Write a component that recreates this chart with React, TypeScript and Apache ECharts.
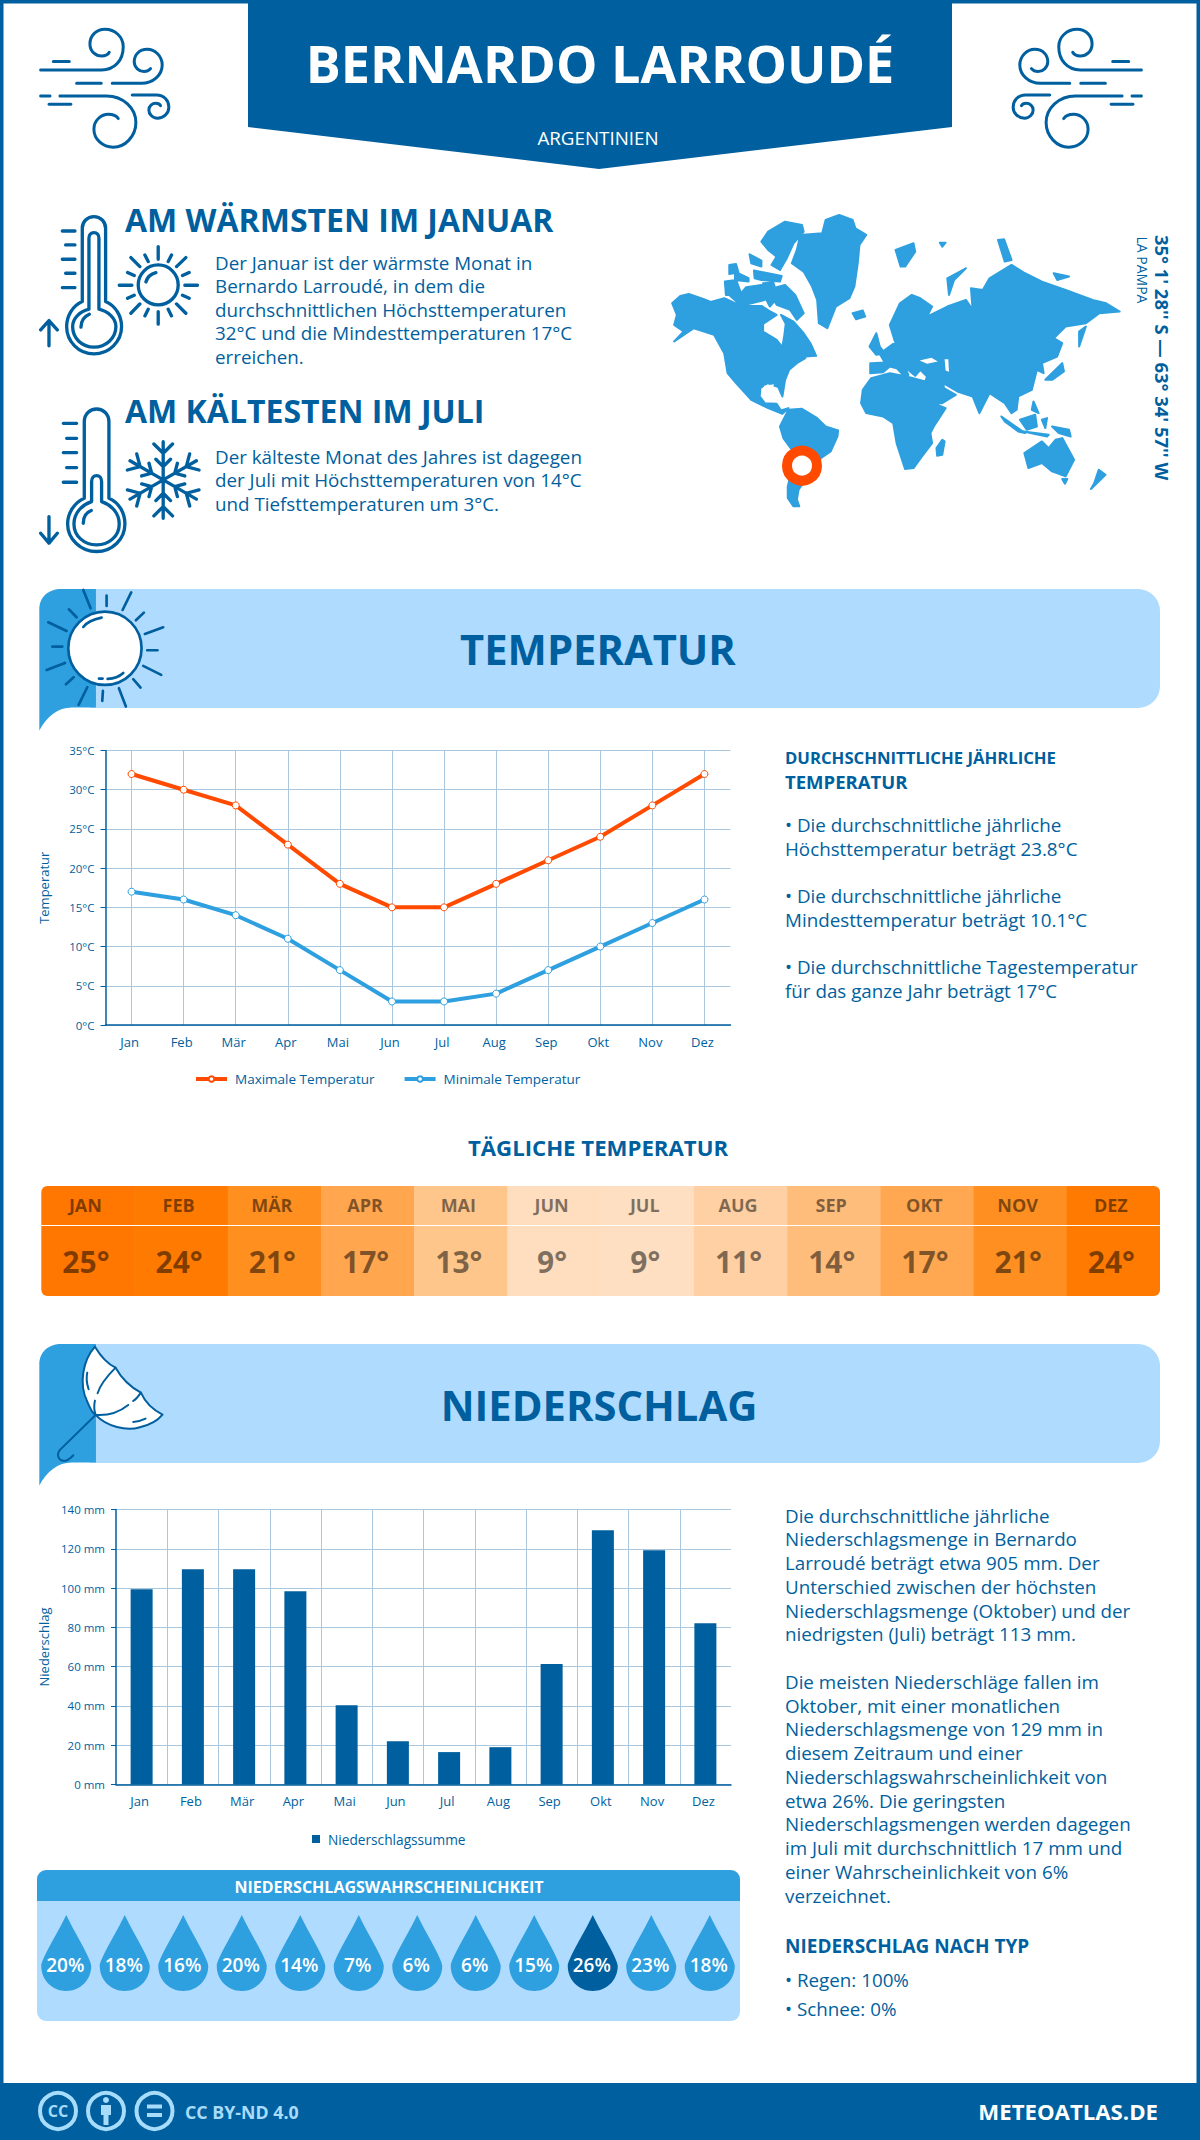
import React, { useEffect, useRef } from "react";
import * as echarts from "echarts";

const FONT = '"Open Sans"';
const DARK = "#005f9e";
const MID = "#2e9fdf";
const LIGHT = "#afdbff";
const ORANGE = "#ff4a00";
const GRIDC = "#a9c7de";

const months = ["Jan", "Feb", "Mär", "Apr", "Mai", "Jun", "Jul", "Aug", "Sep", "Okt", "Nov", "Dez"];
const monthsUpper = ["JAN", "FEB", "MÄR", "APR", "MAI", "JUN", "JUL", "AUG", "SEP", "OKT", "NOV", "DEZ"];
const maxTemp = [32, 30, 28, 23, 18, 15, 15, 18, 21, 24, 28, 32];
const minTemp = [17, 16, 14, 11, 7, 3, 3, 4, 7, 10, 13, 16];
const dailyTemp = [25, 24, 21, 17, 13, 9, 9, 11, 14, 17, 21, 24];
const dailyColors = ["#ff7700", "#ff7a00", "#ff8f1f", "#ffa64f", "#ffc68c", "#ffdebf", "#ffdfc1", "#ffd0a3", "#ffbd7c", "#ffa851", "#ff8f20", "#ff7a00"];
const precip = [99.4, 109.6, 109.6, 98.4, 40.4, 22, 16.5, 19, 61.3, 129.5, 119.3, 82.1];
const rainChance = [20, 18, 16, 20, 14, 7, 6, 6, 15, 26, 23, 18];

const warmText = ["Der Januar ist der wärmste Monat in", "Bernardo Larroudé, in dem die", "durchschnittlichen Höchsttemperaturen", "32°C und die Mindesttemperaturen 17°C", "erreichen."];
const warmY = [263, 286, 310, 333, 357];
const coldText = ["Der kälteste Monat des Jahres ist dagegen", "der Juli mit Höchsttemperaturen von 14°C", "und Tiefsttemperaturen um 3°C."];
const coldY = [457, 480, 504];
const tempSide = ["• Die durchschnittliche jährliche", "Höchsttemperatur beträgt 23.8°C", "• Die durchschnittliche jährliche", "Mindesttemperatur beträgt 10.1°C", "• Die durchschnittliche Tagestemperatur", "für das ganze Jahr beträgt 17°C"];
const tempSideY = [825, 849, 896, 920, 967, 991];
const rainSide = ["Die durchschnittliche jährliche", "Niederschlagsmenge in Bernardo", "Larroudé beträgt etwa 905 mm. Der", "Unterschied zwischen der höchsten", "Niederschlagsmenge (Oktober) und der", "niedrigsten (Juli) beträgt 113 mm.", "Die meisten Niederschläge fallen im", "Oktober, mit einer monatlichen", "Niederschlagsmenge von 129 mm in", "diesem Zeitraum und einer", "Niederschlagswahrscheinlichkeit von", "etwa 26%. Die geringsten", "Niederschlagsmengen werden dagegen", "im Juli mit durchschnittlich 17 mm und", "einer Wahrscheinlichkeit von 6%", "verzeichnet."];
const rainSideY = [1516, 1539, 1563, 1587, 1611, 1634, 1682, 1706, 1729, 1753, 1777, 1801, 1824, 1848, 1872, 1896];

function flakePath() {
  const cx = 400, cy = 240;
  let d = "";
  const seg = (a: number, r1: number, o1: number, r2: number, o2: number) => {
    const c = Math.cos(a), s = Math.sin(a);
    const p = (r: number, o: number) => `${(cx + r * c - o * s).toFixed(1)} ${(cy + r * s + o * c).toFixed(1)}`;
    return `M${p(r1, o1)} L${p(r2, o2)} `;
  };
  for (let i = 0; i < 6; i++) {
    const a = (i * Math.PI) / 3 - Math.PI / 2;
    d += seg(a, 0, 0, 115, 0);
    d += seg(a, 80, 0, 108, 28) + seg(a, 80, 0, 108, -28);
    d += seg(a, 40, 0, 62, 22) + seg(a, 40, 0, 62, -22);
  }
  return d;
}

const windD =
  "M62 180 H245 C285 180 310 150 310 110 C310 80 285 58 255 58 C228 58 210 78 210 102 C210 125 228 138 245 138 C255 138 265 133 268 127 " +
  "M100 155 H148 M277 220 H365 C400 220 427 195 427 165 C427 138 405 118 382 118 C358 118 343 135 343 155 C343 173 358 185 372 185 C380 185 388 181 392 176 " +
  "M170 220 H244 M62 258 H90 M120 258 H260 C310 258 348 295 348 338 C348 380 315 412 280 412 C248 412 222 388 222 358 C222 330 245 313 265 313 C278 313 290 318 295 326 " +
  "M87 283 H153 M337 255 H410 C432 255 447 272 447 292 C447 312 430 325 413 325 C397 325 387 312 387 300 C387 288 397 280 408 280 C415 280 420 283 422 287";

const warmD =
  "M157 305 V85 C157 65 172 50 192 50 C212 50 227 65 227 85 V305 C258 318 275 350 275 380 C275 425 238 462 192 462 C146 462 110 425 110 380 C110 350 127 318 157 305 Z " +
  "M177 328 V115 C177 105 183 98 192 98 C201 98 207 105 207 115 V328 C235 335 258 355 258 380 C258 415 228 442 192 442 C156 442 128 415 128 380 C128 355 150 335 177 328 Z " +
  "M153 382 C153 365 162 350 178 343 M97 93 H135 M107 135 H135 M97 178 H135 M107 220 H135 M97 263 H135 M57 438 V362 M32 390 L57 362 L82 390 " +
  "M325 255 C325 222 352 195 385 195 C418 195 445 222 445 255 C445 288 418 315 385 315 C352 315 325 288 325 255 Z M348 246 C352 232 362 222 378 218 " +
  "M385 140 V178 M385 335 V373 M268 256 H306 M465 256 H503 M303 173 L330 200 M468 173 L440 200 M303 340 L330 312 M468 340 L440 312 " +
  "M345 165 L355 185 M425 165 L415 185 M293 218 L313 227 M478 218 L458 227 M293 295 L313 286 M478 295 L458 286 M345 348 L355 328 M425 348 L415 328";

const coldD =
  "M163 295 V65 C163 42 180 27 200 27 C220 27 237 42 237 65 V295 C268 308 285 340 285 372 C285 418 247 455 200 455 C153 455 113 418 113 372 C113 340 133 308 163 295 Z " +
  "M185 305 V245 C185 233 192 227 200 227 C208 227 215 233 215 245 V305 C245 315 268 340 268 372 C268 408 238 435 200 435 C162 435 132 408 132 372 C132 340 155 315 185 305 Z " +
  "M160 370 C160 352 168 338 184 332 M100 70 H140 M110 115 H140 M100 158 H140 M110 203 H140 M100 247 H140 M57 350 V430 M32 400 L57 430 L82 400 " +
  flakePath();

const bandD = "M28 452 V90 C28 50 55 27 95 27 H198 V383 H125 C85 383 50 410 28 452 Z";
const sunRaysD =
  "M160 30 L182 85 M230 47 V78 M304 37 L278 90 M342 98 L318 121 M400 142 L345 162 M352 211 H383 M394 285 L340 258 M332 323 L310 298 M288 380 L267 325 M217 363 L219 333 M146 375 L172 322 M108 313 L131 292 M50 270 L105 249 M67 200 H97 M55 127 L110 153 M117 88 L140 112 " +
  "M160 141 C170 128 190 118 215 113 M233 297 C250 296 268 290 280 279 M207 296 H218";
const discD = "M115 205 C115 144 164 95 225 95 C286 95 335 144 335 205 C335 266 286 315 225 315 C164 315 115 266 115 205 Z";
const canopyD = "M195 20 C160 60 145 130 172 185 C180 205 190 222 197 225 C230 260 290 275 330 262 C360 255 385 240 398 224 C370 210 345 185 333 158 C300 140 275 115 257 83 C230 70 210 45 195 20 Z";
const ribsD = "M197 225 C240 228 270 215 295 195 M310 183 C318 178 325 170 333 158 M257 83 C235 105 212 130 203 160 M195 182 C192 195 192 210 197 225 M172 98 C168 115 170 130 176 148 M310 246 C322 245 335 242 347 236 M197 225 L90 330 C78 345 85 362 103 363 C115 362 122 355 130 346";

const mapD =
  // North America
  "M36 310 L60 288 L85 282 L130 298 L150 306 L190 295 L240 318 L300 318 L322 332 L345 345 L305 372 L305 395 L345 420 L362 442 L368 405 L372 372 L358 345 L395 365 L425 400 L445 430 L462 468 L430 470 L408 460 L430 475 L405 490 L382 510 L370 540 L362 590 L350 562 L318 550 L297 565 L295 590 L310 610 L345 612 L358 632 L380 625 L362 642 L320 625 L270 600 L225 550 L200 520 L190 460 L160 405 L100 385 L42 425 L70 395 L42 375 L50 345 Z " +
  // Greenland
  "M415 105 L480 100 L490 60 L530 45 L570 60 L578 85 L610 105 L590 135 L585 190 L575 260 L560 295 L520 320 L495 385 L470 370 L465 300 L450 260 L425 215 L390 190 L405 150 Z " +
  // Arctic islands
  "M320 95 L370 65 L420 75 L425 95 L395 130 L375 175 L355 210 L330 195 L345 170 L320 150 L300 125 Z " +
  "M192 245 L225 240 L240 280 L255 262 L300 255 L310 300 L240 318 L205 285 L195 285 Z M205 195 L225 192 L232 218 L205 222 Z M222 215 L262 235 L262 245 L222 240 Z M265 163 L300 182 L300 200 L270 190 Z M278 212 L360 228 L355 245 L300 240 L280 235 Z M305 250 L335 248 L350 290 L325 320 L310 290 Z M345 262 L370 255 L400 285 L425 340 L405 360 L385 330 L345 315 L330 285 Z " +
  // South America
  "M355 680 L380 630 L420 627 L465 655 L490 680 L527 692 L525 710 L505 755 L480 772 L450 800 L420 855 L410 870 L405 900 L412 920 L395 920 L378 895 L378 860 L395 790 L390 750 L365 715 Z " +
  // Africa
  "M625 535 L680 520 L730 530 L785 545 L812 612 L845 625 L810 680 L800 700 L805 730 L775 770 L750 805 L725 808 L700 730 L690 670 L660 650 L610 640 L595 610 L600 570 Z M835 720 L842 725 L835 765 L820 768 L818 745 Z " +
  // Eurasia
  "M622 490 L622 520 L660 517 L680 500 L700 505 L728 535 L735 525 L722 500 L755 528 L770 510 L790 530 L785 545 L815 610 L835 610 L875 585 L840 565 L838 550 L880 575 L925 590 L945 640 L975 580 L1020 610 L1040 640 L1055 630 L1060 590 L1100 570 L1115 510 L1135 520 L1130 490 L1175 470 L1190 430 L1165 415 L1200 380 L1260 370 L1300 340 L1360 335 L1320 310 L1280 300 L1200 270 L1130 245 L1080 220 L1040 195 L975 235 L955 270 L920 265 L925 330 L905 300 L850 320 L790 350 L805 320 L770 295 L745 285 L710 310 L680 375 L695 425 L720 420 L745 370 L725 400 L720 425 L690 432 L650 462 L665 488 L625 490 Z " +
  // islands
  "M640 400 L650 440 L665 460 L640 465 L620 440 Z M570 340 L600 332 L607 350 L580 358 Z M697 150 L750 130 L755 155 L725 200 L712 200 Z M1000 120 L1018 118 L1040 180 L1020 185 Z M1140 540 L1190 490 L1195 515 L1160 540 Z M1240 395 L1260 380 L1240 440 Z " +
  "M1010 650 L1080 700 L1060 695 L1020 665 Z M1075 695 L1150 705 L1145 710 Z M1065 660 L1110 645 L1115 680 L1085 690 Z M1160 680 L1210 690 L1215 710 L1180 700 Z M1105 605 L1120 640 L1100 630 Z M1130 660 L1145 655 L1140 685 Z " +
  "M1078 760 L1130 725 L1150 745 L1170 720 L1190 715 L1225 780 L1200 830 L1160 815 L1130 790 L1090 805 Z M1190 838 L1205 838 L1198 852 Z M1298 810 L1318 825 L1275 868 L1285 850 Z M850 235 L905 205 L870 240 L855 285 Z M1165 220 L1210 230 L1175 240 Z M828 128 L845 128 L835 140 Z";
const seasD = "M768 482 L803 474 L822 485 L790 492 Z M842 478 L853 478 L855 516 L845 512 Z M308 558 L338 553 L320 586 L302 582 Z";

const dropD = "M25 0 C33 17 50 44 50 51 C50 65 39 76 25 76 C11 76 0 65 0 51 C0 44 17 17 25 0 Z";
const personD = "M-5 -6 H5 V4 H2.5 V14 H-2.5 V4 H-5 Z";

const shapes: Record<string, string> = { wind: windD, warmIcon: warmD, coldIcon: coldD, band: bandD, sunRays: sunRaysD, disc: discD, canopy: canopyD, ribs: ribsD, worldMap: mapD, seas: seasD, person: personD };
Object.keys(shapes).forEach((k) => {
  echarts.graphic.registerShape(k, echarts.graphic.extendPath(shapes[k], {}) as any);
});

const icon = (type: string, x: number, y: number, lw: number, fill: string, stroke: string, sx = 1 / 3, sy = 1 / 3) => ({
  type, x, y, scaleX: sx, scaleY: sy, z: 4,
  style: { fill, stroke, lineWidth: lw, lineCap: "round", lineJoin: "round" },
});

const txt = (text: string, x: number, y: number, size: number, weight: any = 400, fill = DARK, align = "left", extra: any = {}) => ({
  type: "text", x, y, z: 6, ...extra,
  style: { text, fontFamily: FONT, fontSize: size, fontWeight: weight, fill, align, verticalAlign: "middle" },
});

const graphicEls: any[] = [
  { type: "rect", z: 1, shape: { x: 1.75, y: 1.75, width: 1196.5, height: 2136.5 }, style: { fill: "none", stroke: DARK, lineWidth: 3.5 } },
  { type: "polygon", z: 2, shape: { points: [[248, 0], [952, 0], [952, 127], [599, 169], [248, 127]] }, style: { fill: DARK } },
  txt("BERNARDO LARROUDÉ", 600, 62, 52.2, 700, "#fff", "center"),
  txt("ARGENTINIEN", 598, 138, 18.8, 400, "#fff", "center"),
  icon("wind", 20, 10, 9, "none", DARK),
  icon("wind", 1162, 10, 9, "none", DARK, -1 / 3, 1 / 3),
  icon("warmIcon", 30, 200, 10, "none", DARK),
  icon("coldIcon", 30, 400, 10, "none", DARK),
  txt("AM WÄRMSTEN IM JANUAR", 125, 219, 32, 700),
  txt("AM KÄLTESTEN IM JULI", 125, 410, 32, 700),
  ...warmText.map((t, i) => txt(t, 215, warmY[i], 18.8)),
  ...coldText.map((t, i) => txt(t, 215, coldY[i], 18.8)),
  { type: "worldMap", x: 660, y: 200, scaleX: 0.338, scaleY: 1 / 3, z: 3, style: { fill: MID, stroke: MID, lineWidth: 6, lineJoin: "round" } },
  { type: "seas", x: 660, y: 200, scaleX: 0.338, scaleY: 1 / 3, z: 3, style: { fill: "#fff" } },
  { type: "circle", z: 4, shape: { cx: 802, cy: 465.7, r: 15 }, style: { fill: "#fff", stroke: ORANGE, lineWidth: 10 } },
  txt("35° 1' 28'' S — 63° 34' 57'' W", 1162, 235, 18.4, 700, DARK, "left", { rotation: -Math.PI / 2 }),
  txt("LA PAMPA", 1142.5, 236.5, 14, 400, DARK, "left", { rotation: -Math.PI / 2 }),

  { type: "rect", z: 2, shape: { x: 90, y: 589, width: 1070, height: 119, r: [0, 22, 22, 0] }, style: { fill: LIGHT } },
  icon("band", 30, 580, 0, MID, "none"),
  icon("disc", 30, 580, 8, "#fff", DARK),
  icon("sunRays", 30, 580, 8, "none", DARK),
  txt("TEMPERATUR", 598, 648, 41.7, 700, DARK, "center"),
  txt("DURCHSCHNITTLICHE JÄHRLICHE", 785, 757, 16.7, 700),
  txt("TEMPERATUR", 785, 781, 18.5, 700),
  ...tempSide.map((t, i) => txt(t, 785, tempSideY[i], 18.8)),
  txt("TÄGLICHE TEMPERATUR", 598, 1147, 22.2, 700, DARK, "center"),
  { type: "line", z: 8, shape: { x1: 41, y1: 1225.5, x2: 1160, y2: 1225.5 }, style: { stroke: "#fff", lineWidth: 1 } },

  { type: "rect", z: 2, shape: { x: 90, y: 1344, width: 1070, height: 119, r: [0, 22, 22, 0] }, style: { fill: LIGHT } },
  icon("band", 30, 1335, 0, MID, "none"),
  icon("canopy", 30, 1340, 6, "#fff", DARK),
  icon("ribs", 30, 1340, 6, "none", DARK),
  txt("NIEDERSCHLAG", 599, 1404, 41.7, 700, DARK, "center"),
  ...rainSide.map((t, i) => txt(t, 785, rainSideY[i], 18.8)),
  txt("NIEDERSCHLAG NACH TYP", 785, 1946, 19, 700),
  txt("• Regen: 100%", 785, 1980, 18.8),
  txt("• Schnee: 0%", 785, 2009, 18.8),

  { type: "rect", z: 2, shape: { x: 37, y: 1870, width: 703, height: 31, r: [9, 9, 0, 0] }, style: { fill: MID } },
  { type: "rect", z: 2, shape: { x: 37, y: 1901, width: 703, height: 120, r: [0, 0, 9, 9] }, style: { fill: LIGHT } },
  txt("NIEDERSCHLAGSWAHRSCHEINLICHKEIT", 389, 1887, 16, 700, "#fff", "center"),

  { type: "rect", z: 5, shape: { x: 0, y: 2083, width: 1200, height: 57 }, style: { fill: DARK } },
  ...[58, 106, 154.5].map((cx) => ({ type: "circle", z: 6, shape: { cx, cy: 2111, r: 18 }, style: { fill: "none", stroke: "#a8dcfb", lineWidth: 4 } })),
  txt("CC", 58, 2111, 16, 700, "#a8dcfb", "center"),
  { type: "person", x: 106, y: 2111, z: 6, style: { fill: "#a8dcfb" } },
  { type: "circle", z: 6, shape: { cx: 106, cy: 2100, r: 3 }, style: { fill: "#a8dcfb" } },
  { type: "rect", z: 6, shape: { x: 147, y: 2104.5, width: 15, height: 4 }, style: { fill: "#a8dcfb" } },
  { type: "rect", z: 6, shape: { x: 147, y: 2113, width: 15, height: 4 }, style: { fill: "#a8dcfb" } },
  txt("CC BY-ND 4.0", 185, 2112, 17.8, 700, "#a8dcfb"),
  txt("METEOATLAS.DE", 1158, 2111, 22.2, 700, "#fff", "right"),
];

const axisText = { color: DARK, fontFamily: FONT };
const yAxisBase = (grid: number, name: string, nameGap: number, max: number, interval: number, fmt: string) => ({
  type: "value", gridIndex: grid, min: 0, max, interval, name, nameLocation: "middle", nameGap,
  nameTextStyle: { color: DARK, fontFamily: FONT, fontSize: 13 },
  axisLine: { show: true, lineStyle: { color: DARK, width: 1.5 } },
  axisTick: { show: true, length: 5, lineStyle: { color: DARK } },
  axisLabel: { ...axisText, fontSize: 11.5, margin: 11, formatter: fmt },
  splitLine: { show: true, lineStyle: { color: GRIDC, width: 1 } },
});
const xAxisBase = (grid: number) => ({
  type: "category", gridIndex: grid, data: months,
  axisLine: { show: true, onZero: false, lineStyle: { color: DARK, width: 1.5 } },
  axisTick: { show: false },
  axisLabel: { ...axisText, fontSize: 13, margin: 10, padding: [0, 4, 0, 0], interval: 0 },
});

const option: any = {
  animation: false,
  backgroundColor: "#fff",
  graphic: { elements: graphicEls },
  legend: [
    {
      left: 194, top: 1072, padding: 0, itemWidth: 31, itemHeight: 7, itemGap: 28,
      data: ["Maximale Temperatur", "Minimale Temperatur"],
      lineStyle: { width: 4 },
      textStyle: { color: DARK, fontFamily: FONT, fontSize: 13.5, padding: [0, 0, 0, 3] },
    },
    {
      left: 312, top: 1832, padding: 0, itemWidth: 8, itemHeight: 8, itemGap: 8, icon: "rect",
      data: ["Niederschlagssumme"],
      textStyle: { color: DARK, fontFamily: FONT, fontSize: 13.7, padding: [0, 0, 0, 3] },
    },
  ],
  grid: [
    { left: 105.5, top: 750.5, width: 625, height: 274.5 },
    { left: 116, top: 1509.5, width: 615, height: 275 },
    { left: 41.3, top: 1186, width: 1118.7, height: 110 },
    { left: 37, top: 1915, width: 702, height: 76 },
  ],
  xAxis: [
    { ...xAxisBase(0), splitLine: { show: true, alignWithLabel: true, lineStyle: { color: GRIDC, width: 1 } } },
    { ...xAxisBase(1), splitLine: { show: true, showMaxLine: false, showMinLine: false, lineStyle: { color: GRIDC, width: 1 } } },
    {
      type: "category", gridIndex: 2, data: monthsUpper, position: "top", z: 6,
      axisLine: { show: false }, axisTick: { show: false }, splitLine: { show: false },
      axisLabel: { inside: true, interval: 0, margin: 10, fontFamily: FONT, fontSize: 18, fontWeight: 700, color: "rgba(0,0,0,0.5)", padding: [0, 5, 0, 0] },
    },
    {
      type: "category", gridIndex: 3, data: monthsUpper,
      axisLine: { show: false }, axisTick: { show: false }, splitLine: { show: false },
      axisLabel: { interval: 0, margin: 6, fontFamily: FONT, fontSize: 14, fontWeight: 700, color: DARK, padding: [0, 4, 0, 0] },
    },
  ],
  yAxis: [
    yAxisBase(0, "Temperatur", 55, 35, 5, "{value}°C"),
    yAxisBase(1, "Niederschlag", 66, 140, 20, "{value} mm"),
    { type: "value", gridIndex: 2, show: false, min: 0, max: 40, splitLine: { show: false } },
    { type: "value", gridIndex: 3, show: false, min: 0, max: 40, splitLine: { show: false } },
  ],
  series: [
    {
      name: "Maximale Temperatur", type: "line", xAxisIndex: 0, yAxisIndex: 0, data: maxTemp, z: 3,
      symbol: "circle", symbolSize: 7, lineStyle: { color: ORANGE, width: 4 },
      itemStyle: { color: "#fff", borderColor: ORANGE, borderWidth: 1 },
    },
    {
      name: "Minimale Temperatur", type: "line", xAxisIndex: 0, yAxisIndex: 0, data: minTemp, z: 3,
      symbol: "circle", symbolSize: 7, lineStyle: { color: MID, width: 4 },
      itemStyle: { color: "#fff", borderColor: MID, borderWidth: 1 },
    },
    {
      name: "Niederschlagssumme", type: "bar", xAxisIndex: 1, yAxisIndex: 1, data: precip, barWidth: 22, z: 3,
      itemStyle: { color: DARK },
    },
    {
      type: "custom", xAxisIndex: 2, yAxisIndex: 2, z: 3, clip: false,
      data: dailyTemp.map((v, i) => [i, v]),
      encode: { x: 0, y: 1 },
      renderItem: (params: any, api: any) => {
        const i = api.value(0);
        const cs = params.coordSys;
        const bw = api.size([1, 0])[0];
        const cx = api.coord([i, 0])[0];
        const r = i === 0 ? [6, 0, 0, 6] : i === 11 ? [0, 6, 6, 0] : 0;
        return {
          type: "group",
          children: [
            { type: "rect", shape: { x: cx - bw / 2, y: cs.y, width: bw + (i < 11 ? 0.4 : 0), height: cs.height, r }, style: { fill: dailyColors[i] } },
            { type: "text", style: { text: api.value(1) + "°", x: cx - 2, y: cs.y + 75, fill: "rgba(0,0,0,0.5)", fontFamily: FONT, fontSize: 30, fontWeight: 700, align: "center", verticalAlign: "middle" } },
          ],
        };
      },
    },
    {
      type: "custom", xAxisIndex: 3, yAxisIndex: 3, z: 3, clip: false,
      data: rainChance.map((v, i) => [i, v]),
      encode: { x: 0, y: 1 },
      renderItem: (params: any, api: any) => {
        const v = api.value(1);
        const cs = params.coordSys;
        const cx = api.coord([api.value(0), 0])[0];
        const top = Math.max(...rainChance) === v;
        return {
          type: "group",
          children: [
            { type: "path", shape: { pathData: dropD, x: cx - 25, y: cs.y, width: 50, height: 76 }, style: { fill: top ? DARK : MID } },
            { type: "text", style: { text: v + "%", x: cx - 1, y: cs.y + 50, fill: "#fff", fontFamily: FONT, fontSize: 19, fontWeight: 600, align: "center", verticalAlign: "middle" } },
          ],
        };
      },
    },
  ],
};

export default function App() {
  const ref = useRef<HTMLDivElement>(null);
  useEffect(() => {
    const chart = echarts.init(ref.current!, undefined, { renderer: "svg" });
    chart.setOption(option);
    return () => chart.dispose();
  }, []);
  return <div ref={ref} style={{ position: "absolute", left: 0, top: 0, width: 1200, height: 2140 }} />;
}
